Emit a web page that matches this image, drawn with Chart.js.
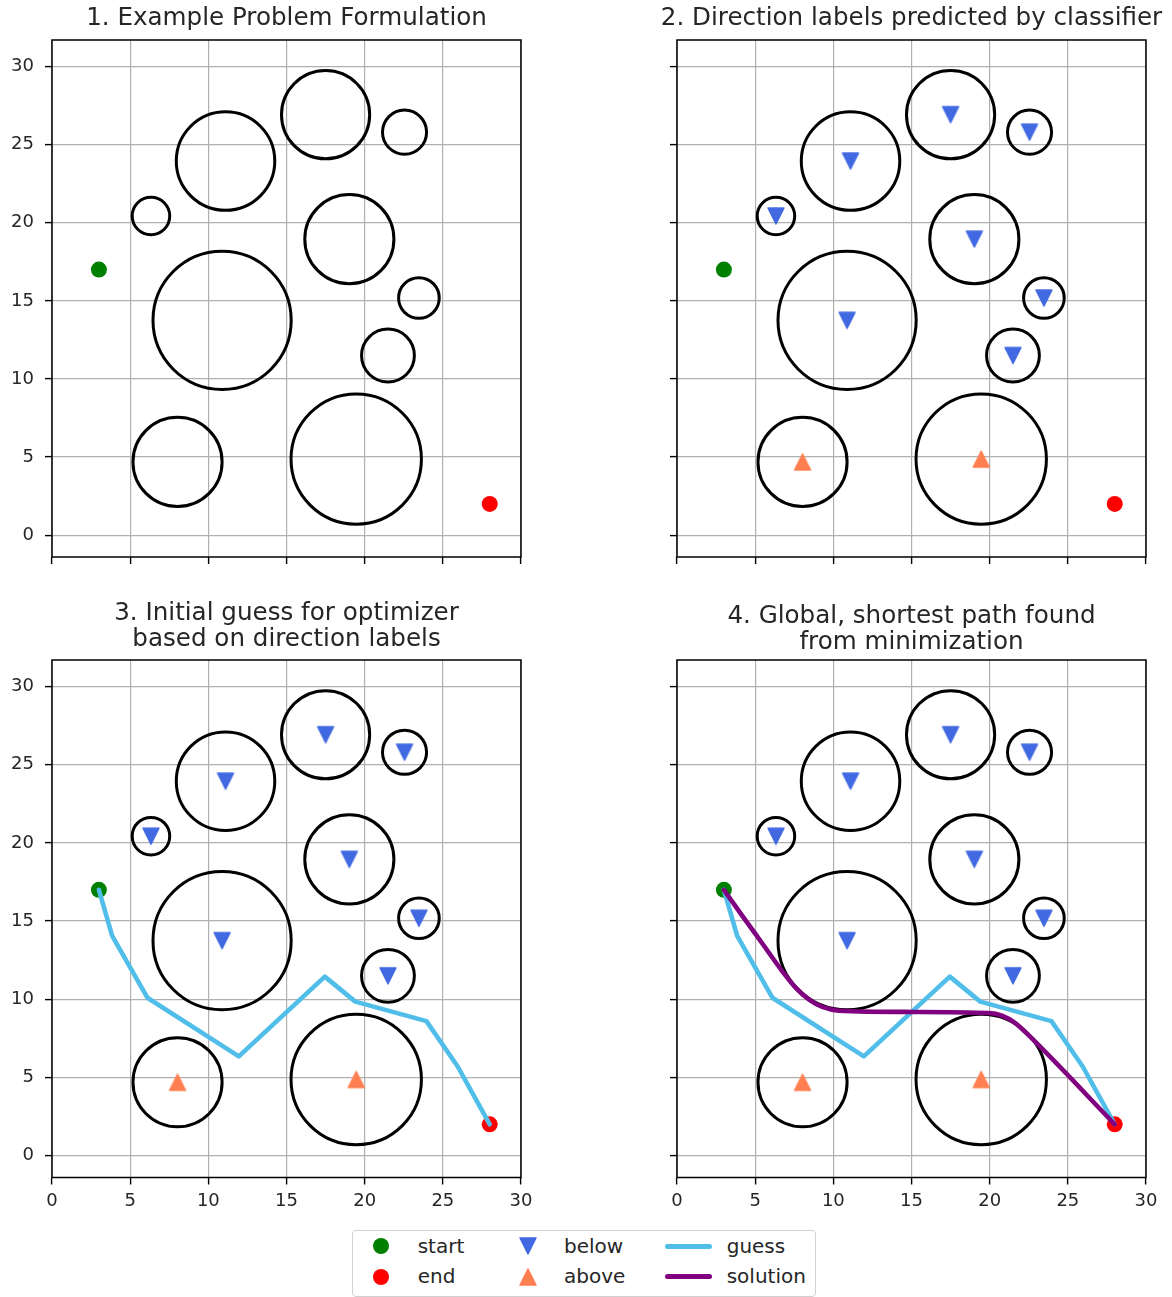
<!DOCTYPE html>
<html>
<head>
<meta charset="utf-8">
<title>Shortest path around obstacles</title>
<script src="https://cdn.jsdelivr.net/npm/chart.js@4.4.1/dist/chart.umd.min.js"></script>
<style>
  html, body { margin: 0; padding: 0; background: #fff; overflow: hidden; }
  #fig { position: relative; width: 1172px; height: 1297px; overflow: hidden; background: #fff;
         font-family: 'DejaVu Sans', 'Liberation Sans', sans-serif; }
  .panel { position: absolute; }
  .panel canvas { display: block; }
  #legend { position: absolute; left: 352px; top: 1230px; width: 464px; height: 67px; box-sizing: border-box;
            border: 1px solid #d0d0d0; border-radius: 4px; background: rgba(255,255,255,0.8); }
  .lg-text { position: absolute; font-size: 20px; line-height: 24px; color: #262626; white-space: nowrap; }
  .lg-icon { position: absolute; display: block; }
  .lg-line { position: absolute; height: 5px; border-radius: 2.5px; }
</style>
</head>
<body>
<div id="fig">
  <div class="panel" style="left:0px;top:0px;"><canvas id="c1" width="573" height="580"></canvas></div>
  <div class="panel" style="left:625px;top:0px;"><canvas id="c2" width="573" height="580"></canvas></div>
  <div class="panel" style="left:0px;top:580px;"><canvas id="c3" width="573" height="640"></canvas></div>
  <div class="panel" style="left:625px;top:580px;"><canvas id="c4" width="573" height="640"></canvas></div>
  <div id="legend"></div>
</div>
<script>
// ---- obstacles (circle centres, radii) and the classifier's direction label for each ----
const circleX = [11.1, 17.5, 22.55, 6.33, 19.02, 23.47, 10.88, 21.49, 8.03, 19.46];
const circleY = [23.95, 26.92, 25.8, 20.43, 18.95, 15.18, 13.75, 11.5, 4.69, 4.87];
const circleR = [3.15, 2.82, 1.41, 1.2, 2.85, 1.3, 4.42, 1.69, 2.85, 4.17];
const circleLabel = ['below', 'below', 'below', 'below', 'below', 'below', 'below', 'below', 'above', 'above'];

// ---- path end points ----
const startX = [3];
const startY = [17];
const endX = [28];
const endY = [2];

// ---- initial guess built from the direction labels ----
const guessX = [3, 3.85, 6.1, 11.95, 17.45, 19.4, 23.95, 25.95, 28];
const guessY = [17, 14.05, 10.1, 6.35, 11.45, 9.85, 8.6, 5.7, 2];

// ---- optimised shortest path ----
const solutionX = [3, 4.19, 5.47, 6.74, 7.6, 8.45, 9.3, 10.36, 15.04, 19.94, 20.79, 21.64, 22.49, 28];
const solutionY = [17, 15.32, 13.55, 11.79, 10.73, 9.98, 9.51, 9.27, 9.19, 9.12, 8.95, 8.48, 7.7, 2];

// ---- axes ----
const xTickValues = [0, 5, 10, 15, 20, 25, 30];
const yTickValues = [0, 5, 10, 15, 20, 25, 30];
const xLimits = [0, 30];
const yLimits = [-1.4, 31.7];

// ---- panel titles ----
const panelTitles = [
  ['1. Example Problem Formulation'],
  ['2. Direction labels predicted by classifier'],
  ['3. Initial guess for optimizer', 'based on direction labels'],
  ['4. Global, shortest path found', 'from minimization']
];

// ---- styling ----
const FONT = "'DejaVu Sans', 'Liberation Sans', sans-serif";
const TEXT_COLOR = '#262626';
const START_COLOR = '#008000';
const END_COLOR = '#ff0000';
const BELOW_COLOR = '#4169e1';
const ABOVE_COLOR = '#ff7f50';
const GUESS_COLOR = '#50bee9';
const SOLUTION_COLOR = '#800080';

// isosceles triangle marker (pointing down or up), used as a point style
function triangleMarker(color, pointingDown, size) {
  const pad = 2;
  const c = document.createElement('canvas');
  c.width = size + pad * 2;
  c.height = size + pad * 2;
  const g = c.getContext('2d');
  g.fillStyle = color;
  g.strokeStyle = color;
  g.lineWidth = 1.4;
  g.lineJoin = 'round';
  g.beginPath();
  if (pointingDown) {
    g.moveTo(pad, pad);
    g.lineTo(pad + size, pad);
    g.lineTo(pad + size / 2, pad + size);
  } else {
    g.moveTo(pad + size / 2, pad);
    g.lineTo(pad + size, pad + size);
    g.lineTo(pad, pad + size);
  }
  g.closePath();
  g.fill();
  g.stroke();
  return c;
}

const belowMarker = triangleMarker(BELOW_COLOR, true, 16);
const aboveMarker = triangleMarker(ABOVE_COLOR, false, 16);

function points(xs, ys) {
  return xs.map((x, i) => ({ x: x, y: ys[i] }));
}

// obstacle radius in data units converted to pixels through the x scale
function circleRadius(ctx) {
  const s = ctx.chart.scales && ctx.chart.scales.x;
  const d = ctx.raw;
  if (!s || !d) return 0;
  return Math.abs(s.getPixelForValue(d.x + d.r) - s.getPixelForValue(d.x));
}

function circleDataset() {
  return {
    label: 'obstacles',
    data: circleX.map((x, i) => ({ x: x, y: circleY[i], r: circleR[i] })),
    pointRadius: circleRadius,
    pointBackgroundColor: 'rgba(0,0,0,0)',
    pointBorderColor: '#000',
    pointBorderWidth: 3,
    order: 5
  };
}

function labelDataset(label, marker) {
  const xs = [], ys = [];
  circleLabel.forEach((l, i) => { if (l === label) { xs.push(circleX[i]); ys.push(circleY[i]); } });
  return {
    label: label,
    data: points(xs, ys),
    pointStyle: marker,
    pointRadius: 9,
    order: 3
  };
}

function endpointDataset(label, xs, ys, color) {
  return {
    label: label,
    data: points(xs, ys),
    pointStyle: 'circle',
    pointRadius: 8,
    pointBackgroundColor: color,
    pointBorderColor: color,
    pointBorderWidth: 0,
    order: 2
  };
}

function pathDataset(label, xs, ys, color, order, smooth) {
  return {
    type: 'line',
    label: label,
    data: points(xs, ys),
    borderColor: color,
    borderWidth: 4.6,
    pointRadius: 0,
    fill: false,
    tension: 0,
    cubicInterpolationMode: smooth ? 'monotone' : 'default',
    borderJoinStyle: 'round',
    borderCapStyle: 'round',
    order: order
  };
}

function buildDatasets(step) {
  const ds = [];
  if (step === 4) ds.push(pathDataset('solution', solutionX, solutionY, SOLUTION_COLOR, 0, true));
  if (step >= 3) ds.push(pathDataset('guess', guessX, guessY, GUESS_COLOR, 1, false));
  ds.push(endpointDataset('start', startX, startY, START_COLOR));
  ds.push(endpointDataset('end', endX, endY, END_COLOR));
  if (step >= 2) {
    ds.push(labelDataset('below', belowMarker));
    ds.push(labelDataset('above', aboveMarker));
  }
  ds.push(circleDataset());
  return ds;
}

// full box around each plot area
const frameBox = {
  id: 'frameBox',
  afterDraw(chart) {
    const a = chart.chartArea;
    const ctx = chart.ctx;
    ctx.save();
    ctx.strokeStyle = '#000';
    ctx.lineWidth = 1.5;
    ctx.strokeRect(a.left, a.top, a.right - a.left, a.bottom - a.top);
    ctx.restore();
  }
};

const panelLayout = [
  { id: 'c1', showX: false, showY: true,  titlePad: { top: 5.1,  bottom: 8.5 }, xAxisHeight: 23 },
  { id: 'c2', showX: false, showY: false, titlePad: { top: 5.1,  bottom: 8.5 }, xAxisHeight: 23 },
  { id: 'c3', showX: true,  showY: true,  titlePad: { top: 20.1, bottom: 7.1 }, xAxisHeight: 42.5 },
  { id: 'c4', showX: true,  showY: false, titlePad: { top: 23.4, bottom: 3.8 }, xAxisHeight: 42.5 }
];

const gridStyle = {
  color: '#b0b0b0',
  lineWidth: 1.2,
  drawTicks: true,
  tickLength: 7,
  tickColor: '#000',
  tickWidth: 1.4
};

panelLayout.forEach((p, idx) => {
  new Chart(document.getElementById(p.id), {
    type: 'scatter',
    data: { datasets: buildDatasets(idx + 1) },
    options: {
      responsive: false,
      animation: false,
      events: [],
      layout: { padding: 0 },
      scales: {
        x: {
          type: 'linear',
          min: xLimits[0],
          max: xLimits[1],
          afterBuildTicks: s => { s.ticks = xTickValues.map(v => ({ value: v })); },
          afterFit: s => { s.height = p.xAxisHeight; },
          ticks: {
            display: p.showX, padding: 6.5, color: TEXT_COLOR, maxRotation: 0, autoSkip: false,
            font: { family: FONT, size: 18 }, callback: v => String(v)
          },
          grid: gridStyle,
          border: { display: false }
        },
        y: {
          type: 'linear',
          min: yLimits[0],
          max: yLimits[1],
          afterBuildTicks: s => { s.ticks = yTickValues.map(v => ({ value: v })); },
          afterFit: s => { s.width = 52; },
          ticks: {
            display: p.showY, padding: 11, color: TEXT_COLOR, autoSkip: false,
            font: { family: FONT, size: 18 }, callback: v => String(v)
          },
          grid: gridStyle,
          border: { display: false }
        },
        // empty margin on the right so the title sits centred over the plot
        yMargin: {
          type: 'linear',
          position: 'right',
          display: true,
          ticks: { display: false },
          grid: { display: false },
          border: { display: false },
          afterFit: s => { s.width = 52; }
        }
      },
      plugins: {
        legend: { display: false },
        tooltip: { enabled: false },
        title: {
          display: true,
          text: panelTitles[idx],
          color: TEXT_COLOR,
          font: { family: FONT, size: 24.6, weight: 'normal', lineHeight: '26.4px' },
          padding: p.titlePad
        }
      }
    },
    plugins: [frameBox]
  });
});

// ---- shared legend below the panels (3 columns x 2 rows) ----
const legendEntries = [
  { label: 'start',    kind: 'dot',  color: START_COLOR,    col: 0, row: 0 },
  { label: 'end',      kind: 'dot',  color: END_COLOR,      col: 0, row: 1 },
  { label: 'below',    kind: 'down', color: BELOW_COLOR,    col: 1, row: 0 },
  { label: 'above',    kind: 'up',   color: ABOVE_COLOR,    col: 1, row: 1 },
  { label: 'guess',    kind: 'line', color: GUESS_COLOR,    col: 2, row: 0 },
  { label: 'solution', kind: 'line', color: SOLUTION_COLOR, col: 2, row: 1 }
];
(function buildLegend() {
  const box = document.getElementById('legend');
  const originX = 353, originY = 1231;           // inner corner of the frame
  const iconCenterX = [381, 527.5, 688.5];
  const textLeft = [417.7, 564, 726.7];
  const rowCenterY = [1246, 1276.5];
  const textTop = [1234.4, 1264.4];
  legendEntries.forEach(e => {
    const cx = iconCenterX[e.col] - originX;
    const cy = rowCenterY[e.row] - originY;
    if (e.kind === 'line') {
      const d = document.createElement('div');
      d.className = 'lg-line';
      d.style.background = e.color;
      d.style.left = (665 - originX) + 'px';
      d.style.width = '47px';
      d.style.top = (cy - 2.5) + 'px';
      box.appendChild(d);
    } else {
      const c = e.kind === 'dot' ? (() => {
        const cv = document.createElement('canvas');
        cv.width = 18; cv.height = 18;
        const g = cv.getContext('2d');
        g.fillStyle = e.color;
        g.beginPath(); g.arc(9, 9, 8, 0, Math.PI * 2); g.fill();
        return cv;
      })() : triangleMarker(e.color, e.kind === 'down', 16);
      c.className = 'lg-icon';
      c.style.left = (cx - c.width / 2) + 'px';
      c.style.top = (cy - c.height / 2) + 'px';
      box.appendChild(c);
    }
    const t = document.createElement('span');
    t.className = 'lg-text';
    t.textContent = e.label;
    t.style.left = (textLeft[e.col] - originX) + 'px';
    t.style.top = (textTop[e.row] - originY) + 'px';
    box.appendChild(t);
  });
})();
</script>
</body>
</html>
